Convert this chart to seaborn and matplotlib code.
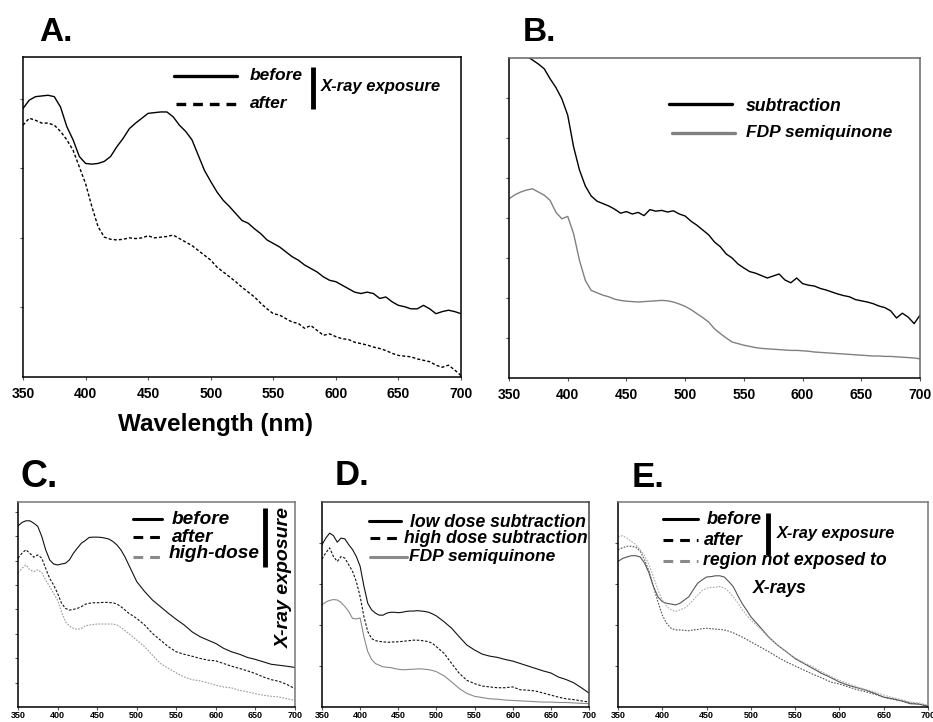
import numpy as np
import matplotlib
matplotlib.use("Agg")
import matplotlib.pyplot as plt
import seaborn as sns
from matplotlib.lines import Line2D

sns.set_style("ticks")
plt.rcParams['font.family'] = ['Liberation Sans', 'DejaVu Sans']
plt.rcParams['font.weight'] = 'bold'
plt.rcParams['lines.scale_dashes'] = False
plt.rcParams['text.color'] = 'black'
plt.rcParams['axes.labelcolor'] = 'black'
plt.rcParams['xtick.color'] = 'black'
plt.rcParams['ytick.color'] = 'black'

# ---------------- data ----------------
# Panel A / B: 5 nm grid
wl_ab = np.arange(350, 701, 5)

a_before = [3.86, 3.98, 4.03, 4.04, 4.05, 4.03, 3.88, 3.60, 3.41, 3.17,
            3.07, 3.06, 3.07, 3.10, 3.17, 3.31, 3.43, 3.57, 3.65, 3.72,
            3.79, 3.80, 3.81, 3.81, 3.74, 3.62, 3.53, 3.41, 3.19, 2.97,
            2.81, 2.66, 2.54, 2.45, 2.35, 2.25, 2.21, 2.13, 2.06, 1.97,
            1.92, 1.87, 1.80, 1.73, 1.68, 1.61, 1.56, 1.51, 1.44, 1.39,
            1.37, 1.32, 1.27, 1.22, 1.20, 1.22, 1.20, 1.13, 1.15, 1.08,
            1.03, 1.01, 0.98, 0.98, 1.03, 0.98, 0.91, 0.94, 0.96, 0.94,
            0.91]
a_after = [3.62, 3.72, 3.69, 3.65, 3.65, 3.62, 3.53, 3.41, 3.26, 3.02,
           2.78, 2.45, 2.16, 2.01, 1.98, 1.97, 1.98, 2.00, 1.99, 2.00,
           2.03, 2.00, 2.01, 2.02, 2.04, 1.99, 1.94, 1.89, 1.82, 1.75,
           1.68, 1.58, 1.51, 1.44, 1.37, 1.29, 1.22, 1.15, 1.06, 0.98,
           0.91, 0.89, 0.84, 0.79, 0.77, 0.70, 0.74, 0.67, 0.60, 0.62,
           0.58, 0.55, 0.54, 0.50, 0.48, 0.46, 0.43, 0.41, 0.38, 0.34,
           0.31, 0.30, 0.29, 0.26, 0.24, 0.22, 0.17, 0.14, 0.17, 0.10,
           0.02]

b_subtraction = [8.50, 8.35, 8.20, 8.05, 7.95, 7.85, 7.73, 7.48, 7.26, 6.98,
                 6.57, 5.78, 5.20, 4.80, 4.55, 4.42, 4.36, 4.30, 4.22, 4.12,
                 4.16, 4.10, 4.14, 4.06, 4.21, 4.17, 4.19, 4.15, 4.18, 4.10,
                 4.05, 3.92, 3.82, 3.70, 3.58, 3.40, 3.28, 3.10, 3.00, 2.85,
                 2.75, 2.66, 2.62, 2.56, 2.50, 2.55, 2.60, 2.45, 2.38, 2.50,
                 2.36, 2.32, 2.30, 2.24, 2.20, 2.15, 2.10, 2.06, 2.03, 1.96,
                 1.93, 1.90, 1.86, 1.80, 1.76, 1.68, 1.50, 1.62, 1.52, 1.36,
                 1.57]
b_fdp = [4.48, 4.58, 4.65, 4.70, 4.73, 4.65, 4.57, 4.44, 4.14, 3.98,
         4.04, 3.61, 2.94, 2.44, 2.19, 2.13, 2.07, 2.03, 1.97, 1.94,
         1.92, 1.91, 1.90, 1.91, 1.92, 1.93, 1.94, 1.93, 1.90, 1.85,
         1.79, 1.71, 1.61, 1.51, 1.40, 1.23, 1.11, 1.00, 0.90, 0.86,
         0.82, 0.79, 0.76, 0.74, 0.73, 0.72, 0.71, 0.70, 0.69, 0.69,
         0.68, 0.67, 0.65, 0.64, 0.63, 0.62, 0.61, 0.60, 0.59, 0.58,
         0.57, 0.56, 0.55, 0.55, 0.54, 0.54, 0.53, 0.52, 0.51, 0.50,
         0.48]

# Panels C-E: 5 nm up to 500 nm, 10 nm beyond
wl_low = np.concatenate([np.arange(350, 501, 5), np.arange(510, 701, 10)])

c_before = [7.42, 7.56, 7.63, 7.63, 7.53, 7.40, 6.99, 6.44, 6.03, 5.86,
            5.82, 5.86, 5.89, 6.03, 6.30, 6.51, 6.71, 6.82, 6.95, 6.96,
            6.96, 6.95, 6.92, 6.88, 6.78, 6.64, 6.44, 6.16, 5.82, 5.48,
            5.14,
            4.73, 4.38, 4.11, 3.84, 3.59, 3.36, 3.08, 2.88, 2.74, 2.60,
            2.40, 2.26, 2.16, 2.03, 1.95, 1.85, 1.75, 1.71, 1.67, 1.62]
c_after = [6.10, 6.30, 6.44, 6.30, 6.14, 6.23, 6.10, 5.68, 5.27, 5.00,
           4.66, 4.25, 4.04, 3.97, 4.00, 4.04, 4.11, 4.21, 4.25, 4.27,
           4.27, 4.28, 4.29, 4.28, 4.27, 4.22, 4.11, 3.98, 3.84, 3.74,
           3.63,
           3.36, 3.01, 2.74, 2.47, 2.26, 2.16, 2.08, 1.99, 1.92, 1.89,
           1.78, 1.67, 1.58, 1.48, 1.37, 1.23, 1.12, 1.05, 0.92, 0.75]
c_high = [5.51, 5.68, 5.82, 5.62, 5.55, 5.62, 5.51, 5.21, 4.93, 4.66,
          4.38, 3.90, 3.49, 3.32, 3.22, 3.18, 3.22, 3.32, 3.36, 3.38,
          3.40, 3.40, 3.40, 3.40, 3.40, 3.36, 3.26, 3.14, 3.01, 2.88,
          2.74,
          2.47, 2.12, 1.78, 1.58, 1.40, 1.23, 1.12, 1.07, 0.99, 0.89,
          0.82, 0.78, 0.68, 0.62, 0.55, 0.48, 0.44, 0.41, 0.34, 0.27]

d_low = [3.96, 4.12, 4.24, 4.18, 4.02, 4.12, 4.10, 3.96, 3.84, 3.67,
         3.43, 2.94, 2.53, 2.37, 2.29, 2.24, 2.24, 2.29, 2.31, 2.31,
         2.30, 2.31, 2.33, 2.34, 2.34, 2.35, 2.34, 2.33, 2.31, 2.27,
         2.22,
         2.08, 1.92, 1.71, 1.51, 1.39, 1.29, 1.24, 1.21, 1.16, 1.12,
         1.06, 1.00, 0.94, 0.88, 0.83, 0.73, 0.67, 0.59, 0.47, 0.34]
d_high = [3.61, 3.76, 3.88, 3.67, 3.55, 3.67, 3.63, 3.47, 3.31, 3.06,
          2.69, 2.20, 1.84, 1.67, 1.62, 1.60, 1.59, 1.58, 1.58, 1.59,
          1.59, 1.60, 1.61, 1.62, 1.63, 1.63, 1.62, 1.61, 1.59, 1.55,
          1.47,
          1.31, 1.06, 0.82, 0.65, 0.57, 0.51, 0.49, 0.47, 0.47, 0.49,
          0.42, 0.41, 0.39, 0.34, 0.29, 0.24, 0.20, 0.18, 0.15, 0.12]
d_fdp = [2.49, 2.56, 2.60, 2.62, 2.61, 2.55, 2.45, 2.33, 2.16, 2.15,
         2.17, 1.71, 1.35, 1.16, 1.06, 1.02, 0.98, 0.97, 0.96, 0.94,
         0.92, 0.91, 0.91, 0.92, 0.92, 0.93, 0.93, 0.92, 0.91, 0.89,
         0.86,
         0.76, 0.61, 0.45, 0.33, 0.26, 0.23, 0.20, 0.19, 0.17, 0.16,
         0.15, 0.14, 0.13, 0.12, 0.12, 0.11, 0.11, 0.10, 0.09, 0.08]

e_before = [3.55, 3.62, 3.66, 3.69, 3.69, 3.66, 3.51, 3.27, 2.94, 2.69,
            2.57, 2.53, 2.51, 2.49, 2.53, 2.61, 2.69, 2.86, 3.02, 3.10,
            3.17, 3.18, 3.20, 3.20, 3.17, 3.06, 2.94, 2.73, 2.53, 2.37,
            2.20,
            1.96, 1.71, 1.51, 1.35, 1.18, 1.06, 0.94, 0.82, 0.72, 0.61,
            0.53, 0.47, 0.41, 0.33, 0.24, 0.20, 0.15, 0.08, 0.07, 0.02]
e_after = [3.84, 3.88, 3.92, 3.92, 3.90, 3.80, 3.59, 3.31, 2.94, 2.57,
           2.24, 2.04, 1.92, 1.88, 1.88, 1.87, 1.86, 1.88, 1.89, 1.91,
           1.92, 1.91, 1.90, 1.89, 1.88, 1.85, 1.81, 1.76, 1.71, 1.65,
           1.59,
           1.47, 1.35, 1.22, 1.10, 1.00, 0.90, 0.80, 0.71, 0.61, 0.56,
           0.49, 0.42, 0.37, 0.31, 0.24, 0.19, 0.15, 0.10, 0.07, 0.02]
e_unexposed = [4.15, 4.18, 4.12, 4.04, 3.96, 3.84, 3.69, 3.47, 3.18, 2.86,
               2.61, 2.45, 2.37, 2.33, 2.37, 2.41, 2.49, 2.61, 2.73, 2.84,
               2.90, 2.92, 2.92, 2.94, 2.90, 2.82, 2.69, 2.55, 2.38, 2.24,
               2.12,
               1.92, 1.70, 1.51, 1.35, 1.20, 1.08, 0.98, 0.86, 0.75, 0.65,
               0.57, 0.49, 0.42, 0.37, 0.29, 0.23, 0.18, 0.12, 0.10, 0.04]

x_ticks = [350, 400, 450, 500, 550, 600, 650, 700]

# ---------------- figure ----------------
W, H = 933, 722
fig = plt.figure(figsize=(W / 100, H / 100), dpi=100)


def box(l, t, r, b):
    return [l / W, 1 - b / H, (r - l) / W, (b - t) / H]


def fx(x):
    return x / W


def fy(y):
    return 1 - y / H


axA = fig.add_axes(box(23, 57, 461, 377))
axB = fig.add_axes(box(509, 58, 920, 378))
axC = fig.add_axes(box(18, 502, 295, 707))
axD = fig.add_axes(box(322, 502, 589, 707))
axE = fig.add_axes(box(618, 502, 928, 707))


def trace(ax, x, y, color, lw=1.0, ls='-'):
    sns.lineplot(x=x, y=y, ax=ax, color=color, linewidth=lw, linestyle=ls,
                 estimator=None, sort=False, legend=False)


def style(ax, ylim, yticks, fs, pad, frame='#000000', side='#000000'):
    ax.set_xlim(350, 700)
    ax.set_ylim(*ylim)
    ax.set_xticks(x_ticks)
    ax.set_xticklabels([str(t) for t in x_ticks], fontweight='bold')
    ax.set_yticks(yticks)
    ax.set_yticklabels([])
    ax.tick_params(axis='x', length=2.5, width=0.8, color='#555555',
                   labelsize=fs, pad=pad, labelcolor='black')
    ax.tick_params(axis='y', length=2.5, width=0.8, color='#555555')
    ax.set_xlabel('')
    ax.set_ylabel('')
    for s in ('left', 'bottom'):
        ax.spines[s].set_color(frame)
        ax.spines[s].set_linewidth(1.1)
    for s in ('top', 'right'):
        ax.spines[s].set_color(side)
        ax.spines[s].set_linewidth(1.1)


# Panel A
trace(axA, wl_ab, a_before, 'black', 1.0)
trace(axA, wl_ab, a_after, 'black', 1.0, (0, (2.2, 1.5)))
style(axA, (0, 4.6), [1, 2, 3, 4], 10, 5)

# Panel B
trace(axB, wl_ab, b_subtraction, 'black', 1.0)
trace(axB, wl_ab, b_fdp, '#808080', 1.0)
style(axB, (0, 8.0), [1, 2, 3, 4, 5, 6, 7], 10, 5, '#000000', '#666666')

# Panel C
trace(axC, wl_low, c_before, '#111111', 0.8)
trace(axC, wl_low, c_after, '#111111', 0.8, (0, (1.8, 1.2)))
trace(axC, wl_low, c_high, '#9a9a9a', 0.8, (0, (1.2, 1.0)))
style(axC, (0, 8.4), [1, 2, 3, 4, 5, 6, 7, 8], 6.5, 0.5, '#000000', '#777777')

# Panel D
trace(axD, wl_low, d_low, '#111111', 0.8)
trace(axD, wl_low, d_high, '#111111', 0.8, (0, (1.8, 1.2)))
trace(axD, wl_low, d_fdp, '#8a8a8a', 0.8)
style(axD, (0, 5.0), [1, 2, 3, 4], 6.5, 0.5, '#000000', '#444444')

# Panel E
trace(axE, wl_low, e_before, '#555555', 0.8)
trace(axE, wl_low, e_after, '#555555', 0.8, (0, (1.2, 1.0)))
trace(axE, wl_low, e_unexposed, '#aaaaaa', 0.8, (0, (1.2, 1.0)))
style(axE, (0, 5.0), [1, 2, 3, 4], 6.5, 0.5, '#000000', '#777777')

# ---------------- panel letters and axis title ----------------
for txt, x, y, fs in [('A.', 39, 41, 24), ('B.', 523, 41, 24),
                      ('C.', 21, 487, 27), ('D.', 335, 485, 25),
                      ('E.', 632, 487, 25)]:
    fig.text(fx(x), fy(y), txt, fontsize=fs, fontweight='bold',
             va='baseline', ha='left', color='black')

fig.text(fx(215), fy(431), 'Wavelength (nm)', fontsize=17.5,
         fontweight='bold', ha='center', va='baseline', color='black')


# ---------------- legends ----------------
def key(x0, x1, y, color, lw, ls='-'):
    fig.add_artist(Line2D([fx(x0), fx(x1)], [fy(y), fy(y)], color=color,
                          linewidth=lw, linestyle=ls,
                          transform=fig.transFigure))


def bar(x, y0, y1, lw=3.5):
    fig.add_artist(Line2D([fx(x), fx(x)], [fy(y0), fy(y1)], color='black',
                          linewidth=lw, solid_capstyle='butt',
                          transform=fig.transFigure))


def label(x, y, s, fs, **kw):
    fig.text(fx(x), fy(y), s, fontsize=fs, fontweight='bold',
             fontstyle='italic', va='baseline', ha='left', color='black', **kw)


dash_big = (0, (7, 5))

# A
key(174, 237, 76, 'black', 2.4)
key(176, 238, 104, 'black', 2.4, dash_big)
label(250, 80, 'before', 12.5)
label(250, 108, 'after', 12.5)
bar(313, 67, 109)
label(321, 91, 'X-ray exposure', 12)

# B
key(669, 732, 104, 'black', 2.4)
key(672, 735, 133, '#808080', 2.4)
label(746, 111, 'subtraction', 12.7)
label(746, 137, 'FDP semiquinone', 12.5)

# C
key(133, 162, 519, 'black', 2.2)
key(133, 162, 537, 'black', 2.2, (0, (7, 5)))
key(133, 162, 557, '#8a8a8a', 2.2, (0, (7, 5)))
label(172, 524, 'before', 13.7)
label(172, 542, 'after', 13.7)
label(169, 558, 'high-dose', 13.7)
bar(265, 508, 567)
fig.text(fx(284), fy(577), 'X-ray exposure', fontsize=14, fontweight='bold',
         fontstyle='italic', rotation=90, ha='center', va='center',
         color='black')

# D
key(369, 401, 521, 'black', 2.2)
key(370, 401, 538, 'black', 2.2, (0, (7, 5)))
key(370, 407, 557, '#8a8a8a', 2.2)
label(410, 527, 'low dose subtraction', 12.7)
label(404, 543, 'high dose subtraction', 12.7)
label(409, 561, 'FDP semiquinone', 12.5)

# E
key(663, 698, 519, 'black', 2.2)
key(663, 698, 540, 'black', 2.2, (0, (7, 5)))
key(663, 698, 561, '#8a8a8a', 2.2, (0, (7, 5)))
label(707, 524, 'before', 13)
label(704, 545, 'after', 13)
label(703, 565, 'region not exposed to', 12.7)
label(753, 593, 'X-rays', 12.7)
bar(768, 513, 555)
label(777, 538, 'X-ray exposure', 11.8)

fig.savefig('out.png', dpi=100)
